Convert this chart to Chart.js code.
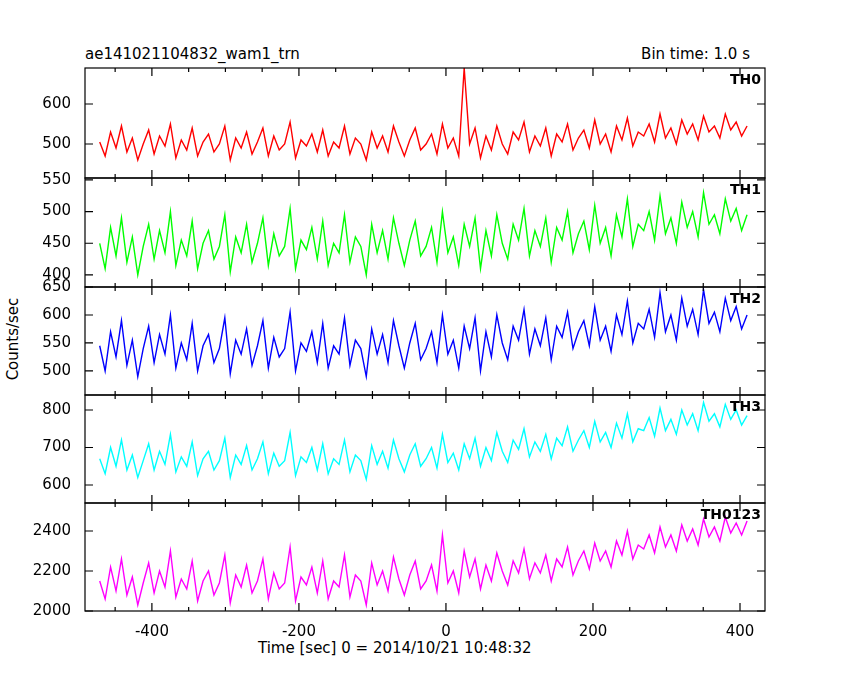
<!DOCTYPE html>
<html><head><meta charset="utf-8">
<script src="https://cdn.jsdelivr.net/npm/chart.js@4.4.0/dist/chart.umd.min.js"></script>
<style>
body{margin:0;background:#fff;width:850px;height:680px;position:relative;overflow:hidden;font-family:"DejaVu Sans",sans-serif;}
.c{position:absolute;left:0;width:850px;}
.t{position:absolute;font-size:15px;color:#000;white-space:nowrap;}
</style></head><body>
<div class="t" style="left:85px;top:45px;">ae141021104832_wam1_trn</div>
<div class="t" style="right:100px;top:45px;">Bin time: 1.0 s</div>
<div class="t" style="left:-28px;top:330px;transform:rotate(-90deg);">Counts/sec</div>
<div class="t" style="left:258px;top:639px;">Time [sec] 0 = 2014/10/21 10:48:32</div>
<script>
const startTime=-471, binStep=7.4;
const th0=[505,470,530,490,545,480,515,460,500,535,475,520,495,550,465,510,485,540,470,505,
525,480,500,545,460,515,490,530,475,505,540,470,520,485,500,555,465,510,495,525,
480,535,470,505,490,545,475,515,500,460,530,490,520,480,545,505,470,510,540,485,
500,525,475,550,490,515,470,690,500,540,465,520,485,545,500,475,530,510,555,480,
520,495,540,470,525,505,550,485,515,535,490,560,500,525,480,545,510,565,495,530,
520,550,505,575,515,540,500,560,525,550,510,570,530,545,515,575,535,555,520,545];
const th1=[450,410,475,430,490,420,460,400,445,480,425,470,435,500,415,455,430,485,410,450,
470,425,445,495,405,460,435,480,420,450,490,415,465,430,445,505,410,455,440,475,
425,485,415,450,435,495,420,460,445,400,480,435,470,425,490,450,415,455,485,430,
445,475,420,500,435,460,415,480,445,490,410,470,430,495,450,425,480,455,505,430,
470,445,490,420,475,455,500,435,465,485,440,510,450,475,430,495,460,520,445,480,
470,500,455,525,465,490,450,515,475,500,460,530,480,495,465,520,485,505,470,495];
const th2=[545,500,570,525,590,510,555,490,540,580,515,565,530,600,505,550,520,585,500,545,
565,515,540,595,495,555,530,575,510,545,590,505,560,525,540,605,500,550,535,570,
515,585,505,545,530,595,510,555,540,490,575,530,565,515,590,545,505,550,585,520,
540,570,515,600,530,555,505,580,540,595,500,570,525,600,550,520,580,555,610,530,
575,545,595,520,580,560,605,540,570,590,545,615,555,580,535,600,565,625,550,585,
575,610,560,640,570,600,555,630,580,610,565,645,585,605,570,630,590,615,575,600];
const th3=[670,630,700,650,720,640,680,620,665,710,640,690,655,735,635,675,650,715,625,670,
690,640,665,725,620,680,655,705,640,670,715,630,685,650,665,740,625,675,660,700,
640,710,630,670,655,720,635,680,665,615,705,655,690,645,720,670,635,680,710,650,
670,700,645,735,660,685,640,710,670,725,650,700,665,740,690,660,720,695,750,675,
715,690,735,670,725,705,755,690,720,745,700,770,715,740,700,765,725,790,715,750,
745,780,730,805,745,775,735,800,760,790,745,820,770,790,755,815,775,800,760,785];
const th0123=[2150,2060,2220,2100,2260,2080,2170,2030,2140,2240,2090,2200,2120,2300,2070,2160,2110,2250,2050,2150,
2200,2080,2140,2280,2040,2180,2120,2230,2090,2150,2260,2060,2190,2110,2140,2320,2050,2170,2130,2220,
2090,2250,2060,2150,2120,2280,2070,2180,2150,2030,2240,2130,2200,2100,2270,2160,2080,2180,2250,2110,
2150,2230,2100,2380,2140,2200,2090,2300,2170,2260,2110,2230,2150,2290,2200,2130,2250,2190,2310,2160,
2240,2190,2280,2150,2260,2220,2320,2180,2250,2300,2210,2340,2250,2300,2220,2350,2280,2400,2260,2330,
2310,2380,2290,2420,2320,2380,2300,2430,2350,2410,2330,2460,2370,2420,2350,2470,2390,2440,2380,2450];
const names=["TH0","TH1","TH2","TH3","TH0123"];
const series=[th0,th1,th2,th3,th0123];
const colors=["#ff0000","#00ff00","#0000ff","#00ffff","#ff00ff"];
const yMins=[415,381,457,552,2000], yMaxs=[690,553,650,840,2540];
const yTicks=[[500,600],[400,450,500,550],[500,550,600,650],[600,700,800],[2000,2200,2400]];
const xTicks=[-400,-200,0,200,400];
const xMin=-491, xMax=434;
const tops=[68,178,287,395,503], bottoms=[178,287,395,503,611];
const PAD=10;

const frame={id:'frame',afterDraw(c,a,o){const ctx=c.ctx,ca=c.chartArea,x=c.scales.x;
 ctx.save();ctx.strokeStyle='#000';ctx.lineWidth=1.2;ctx.strokeRect(ca.left,ca.top,ca.right-ca.left,ca.bottom-ca.top);
 ctx.beginPath();
 for(let v=-500;v<=434;v+=50){if(v<xMin)continue;const px=x.getPixelForValue(v);const L=(v%200===0)?8:4;
  ctx.moveTo(px,ca.top);ctx.lineTo(px,ca.top+L);ctx.moveTo(px,ca.bottom);ctx.lineTo(px,ca.bottom-L);}
 const y=c.scales.y;
 for(const v of o.ticks){const py=y.getPixelForValue(v);ctx.moveTo(ca.left,py);ctx.lineTo(ca.left+8,py);ctx.moveTo(ca.right,py);ctx.lineTo(ca.right-8,py);}
 ctx.stroke();
 ctx.fillStyle='#000';ctx.font='bold 14px "DejaVu Sans"';ctx.textAlign='right';ctx.textBaseline='top';
 ctx.fillText(o.label,ca.right-4,ca.top+5);ctx.restore();}};

series.forEach((vals,k)=>{
 const last=k===4;
 const cv=document.createElement('canvas');cv.className='c';
 const h=bottoms[k]-tops[k]+2*PAD+(last?28:0);
 cv.style.top=(tops[k]-PAD)+'px';cv.style.height=h+'px';cv.width=850;cv.height=h;
 document.body.appendChild(cv);
 const pts=vals.map((v,i)=>({x:startTime+i*binStep,y:v}));
 new Chart(cv,{type:'line',data:{datasets:[{data:pts,borderColor:colors[k],borderWidth:1.4,pointRadius:0,tension:0}]},
 options:{responsive:false,animation:false,events:[],layout:{padding:{left:0,right:85,top:PAD,bottom:PAD}},
  plugins:{legend:{display:false},tooltip:{enabled:false},frame:{label:names[k],ticks:yTicks[k]}},
  scales:{
   x:{type:'linear',min:xMin,max:xMax,display:last,grid:{display:false},border:{display:false},
      afterBuildTicks:s=>{s.ticks=xTicks.map(v=>({value:v}));},afterFit:s=>{s.height=last?28:0;s.paddingLeft=0;s.paddingRight=0;},
      ticks:{color:'#000',font:{size:15,family:'DejaVu Sans'},padding:4,maxRotation:0,callback:v=>String(v)}},
   y:{min:yMins[k],max:yMaxs[k],grid:{display:false},border:{display:false},
      afterBuildTicks:s=>{s.ticks=yTicks[k].map(v=>({value:v}));},afterFit:s=>{s.width=85;s.paddingTop=0;s.paddingBottom=0;},
      ticks:{color:'#000',font:{size:15,family:'DejaVu Sans'},padding:6,callback:v=>String(v)}}}},
 plugins:[frame]});
});
</script></body></html>
